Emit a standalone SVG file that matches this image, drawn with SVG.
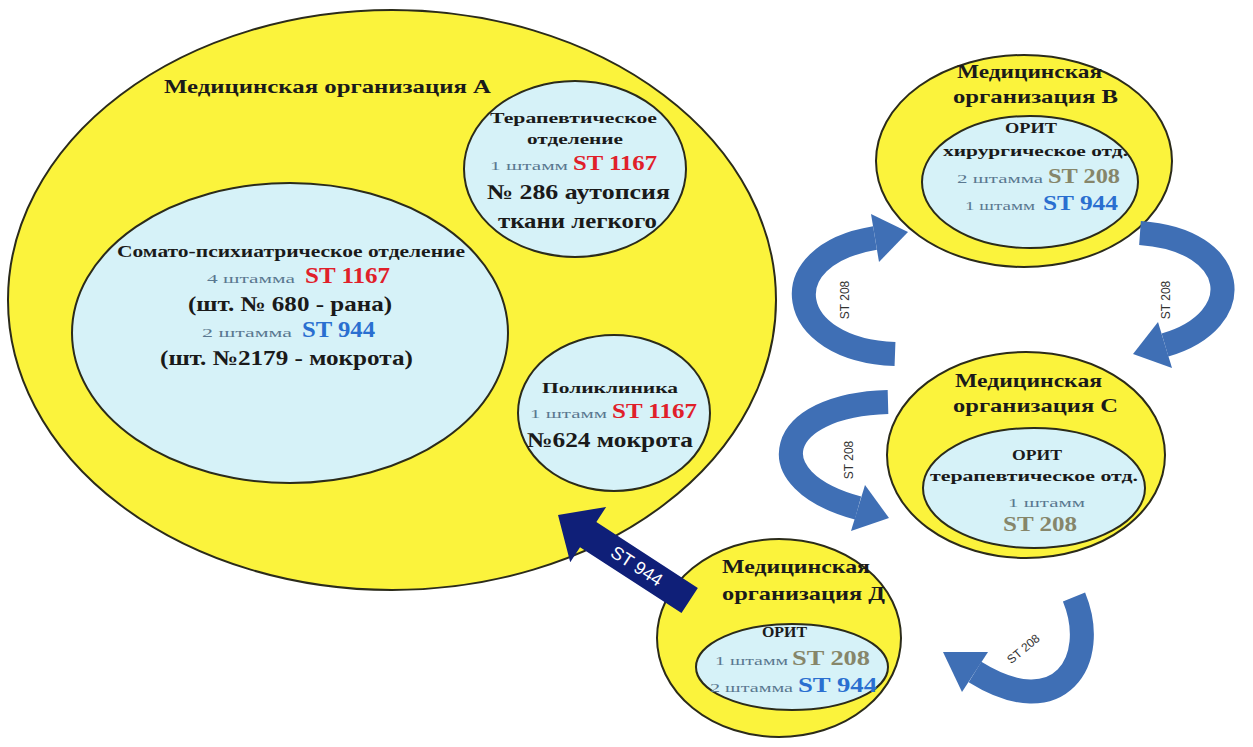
<svg xmlns="http://www.w3.org/2000/svg" width="1253" height="747" viewBox="0 0 1253 747">
<style>
.outer{fill:#fbf33c;stroke:#2b2b1a;stroke-width:2}
.inner{fill:#d6f2f8;stroke:#2b2b1a;stroke-width:2}
text{font-family:"Liberation Serif","Times New Roman","DejaVu Serif",serif;fill:#1a1a1a}
.t{font-weight:bold}
.s{font-size:13px;fill:#5a7890}
.red{fill:#e0202a;font-weight:bold}
.blue{fill:#2a6fd0;font-weight:bold}
.olive{fill:#86866a;font-weight:bold}
.band{fill:none;stroke:#3f6fb5;stroke-width:24}
.head{fill:#3f6fb5}
.lab{font-family:"Liberation Sans","DejaVu Sans",sans-serif;font-size:12px;fill:#333;text-anchor:middle}
</style>
<rect width="1253" height="747" fill="#ffffff"/>
<g id="orgA">
<ellipse class="outer" cx="392" cy="300" rx="384" ry="290"/>
<text class="t" x="164" y="93" font-size="19" textLength="327" lengthAdjust="spacingAndGlyphs">Медицинская  организация А</text>
</g>
<g id="therapy">
<ellipse class="inner" cx="575" cy="169" rx="111" ry="88"/>
<text class="t" x="490" y="123" font-size="15" textLength="167" lengthAdjust="spacingAndGlyphs">Терапевтическое</text>
<text class="t" x="527" y="144" font-size="15" textLength="96" lengthAdjust="spacingAndGlyphs">отделение</text>
<text class="s" x="490" y="170" textLength="78" lengthAdjust="spacingAndGlyphs">1 штамм</text>
<text class="red" x="573" y="170" font-size="22" textLength="84" lengthAdjust="spacingAndGlyphs">ST 1167</text>
<text class="t" x="487" y="199" font-size="21" textLength="183" lengthAdjust="spacingAndGlyphs">№ 286  аутопсия</text>
<text class="t" x="498" y="228" font-size="21" textLength="159" lengthAdjust="spacingAndGlyphs">ткани легкого</text>
</g>
<g id="somato">
<ellipse class="inner" cx="290" cy="333" rx="218" ry="150"/>
<text class="t" x="117" y="257" font-size="16" textLength="348" lengthAdjust="spacingAndGlyphs">Сомато-психиатрическое отделение</text>
<text class="s" x="207" y="283" textLength="88" lengthAdjust="spacingAndGlyphs">4 штамма</text>
<text class="red" x="305" y="283" font-size="23" textLength="85" lengthAdjust="spacingAndGlyphs">ST 1167</text>
<text class="t" x="188" y="311" font-size="21" textLength="204" lengthAdjust="spacingAndGlyphs">(шт. № 680 - рана)</text>
<text class="s" x="202" y="337" textLength="90" lengthAdjust="spacingAndGlyphs">2 штамма</text>
<text class="blue" x="302" y="337" font-size="23" textLength="73" lengthAdjust="spacingAndGlyphs">ST 944</text>
<text class="t" x="160" y="365" font-size="21" textLength="253" lengthAdjust="spacingAndGlyphs">(шт. №2179 - мокрота)</text>
</g>
<g id="poly">
<ellipse class="inner" cx="614" cy="413" rx="96" ry="78"/>
<text class="t" x="542" y="393" font-size="15" textLength="136" lengthAdjust="spacingAndGlyphs">Поликлиника</text>
<text class="s" x="530" y="418" textLength="77" lengthAdjust="spacingAndGlyphs">1 штамм</text>
<text class="red" x="612" y="418" font-size="22" textLength="85" lengthAdjust="spacingAndGlyphs">ST 1167</text>
<text class="t" x="527" y="447" font-size="21" textLength="166" lengthAdjust="spacingAndGlyphs">№624 мокрота</text>
</g>
<g id="orgB">
<ellipse class="outer" cx="1024" cy="161" rx="148" ry="106"/>
<ellipse class="inner" cx="1030" cy="182" rx="108" ry="66"/>
<text class="t" x="957" y="78" font-size="19" textLength="145" lengthAdjust="spacingAndGlyphs">Медицинская</text>
<text class="t" x="953" y="103" font-size="19" textLength="165" lengthAdjust="spacingAndGlyphs">организация В</text>
<text class="t" x="1005" y="133" font-size="15" textLength="52" lengthAdjust="spacingAndGlyphs">ОРИТ</text>
<text class="t" x="943" y="156" font-size="14" textLength="185" lengthAdjust="spacingAndGlyphs">хирургическое отд.</text>
<text class="s" x="957" y="183" textLength="86" lengthAdjust="spacingAndGlyphs">2 штамма</text>
<text class="olive" x="1048" y="183" font-size="22" textLength="72" lengthAdjust="spacingAndGlyphs">ST 208</text>
<text class="s" x="965" y="210" textLength="70" lengthAdjust="spacingAndGlyphs">1 штамм</text>
<text class="blue" x="1043" y="210" font-size="22" textLength="75" lengthAdjust="spacingAndGlyphs">ST 944</text>
</g>
<g id="orgC">
<ellipse class="outer" cx="1026" cy="455" rx="139" ry="103"/>
<ellipse class="inner" cx="1034" cy="488" rx="111" ry="60"/>
<text class="t" x="955" y="387" font-size="19" textLength="147" lengthAdjust="spacingAndGlyphs">Медицинская</text>
<text class="t" x="953" y="412" font-size="19" textLength="165" lengthAdjust="spacingAndGlyphs">организация С</text>
<text class="t" x="1012" y="460" font-size="15" textLength="50" lengthAdjust="spacingAndGlyphs">ОРИТ</text>
<text class="t" x="930" y="481" font-size="14" textLength="208" lengthAdjust="spacingAndGlyphs">терапевтическое отд.</text>
<text class="s" x="1008" y="507" textLength="77" lengthAdjust="spacingAndGlyphs">1 штамм</text>
<text class="olive" x="1003" y="531" font-size="22" textLength="74" lengthAdjust="spacingAndGlyphs">ST 208</text>
</g>
<g id="orgD">
<ellipse class="outer" cx="779" cy="638" rx="122" ry="99"/>
<ellipse class="inner" cx="792" cy="667" rx="96" ry="43"/>
<text class="t" x="722" y="573" font-size="19" textLength="148" lengthAdjust="spacingAndGlyphs">Медицинская</text>
<text class="t" x="722" y="600" font-size="19" textLength="163" lengthAdjust="spacingAndGlyphs">организация Д</text>
<text class="t" x="762" y="637" font-size="15" textLength="45" lengthAdjust="spacingAndGlyphs">ОРИТ</text>
<text class="s" x="715" y="665" textLength="73" lengthAdjust="spacingAndGlyphs">1 штамм</text>
<text class="olive" x="792" y="665" font-size="22" textLength="78" lengthAdjust="spacingAndGlyphs">ST 208</text>
<text class="s" x="710" y="692" textLength="83" lengthAdjust="spacingAndGlyphs">2 штамма</text>
<text class="blue" x="798" y="692" font-size="22" textLength="79" lengthAdjust="spacingAndGlyphs">ST 944</text>
</g>
<g id="connectors">
<g transform="translate(558,515) rotate(33)">
<polygon points="0,0 36,-33 36,-15 157,-15 157,15 36,15 36,33" fill="#0f1f78"/>
<text x="94" y="6" style="font-family:'Liberation Sans','DejaVu Sans',sans-serif;font-size:18px;fill:#ffffff;text-anchor:middle">ST 944</text>
</g>
<path class="band" d="M 895 354 C 785 350, 770 255, 875 238"/>
<polygon class="head" points="908,232 871,214 879,262"/>
<text class="lab" transform="translate(849,300) rotate(-90)">ST 208</text>
<path class="band" d="M 1140 233 C 1240 240, 1250 320, 1165 345"/>
<polygon class="head" points="1133,354 1158,322 1172,368"/>
<text class="lab" transform="translate(1170,300) rotate(-90)">ST 208</text>
<path class="band" d="M 888 402 C 775 405, 755 480, 858 508"/>
<polygon class="head" points="889,518 865,485 851,531"/>
<text class="lab" transform="translate(853,460) rotate(-90)">ST 208</text>
<path class="band" d="M 1074 597 C 1100 660, 1060 725, 975 672"/>
<polygon class="head" points="943,652 988,652 962,692"/>
<text class="lab" transform="translate(1026,652) rotate(-40)">ST 208</text>
</g>
</svg>
